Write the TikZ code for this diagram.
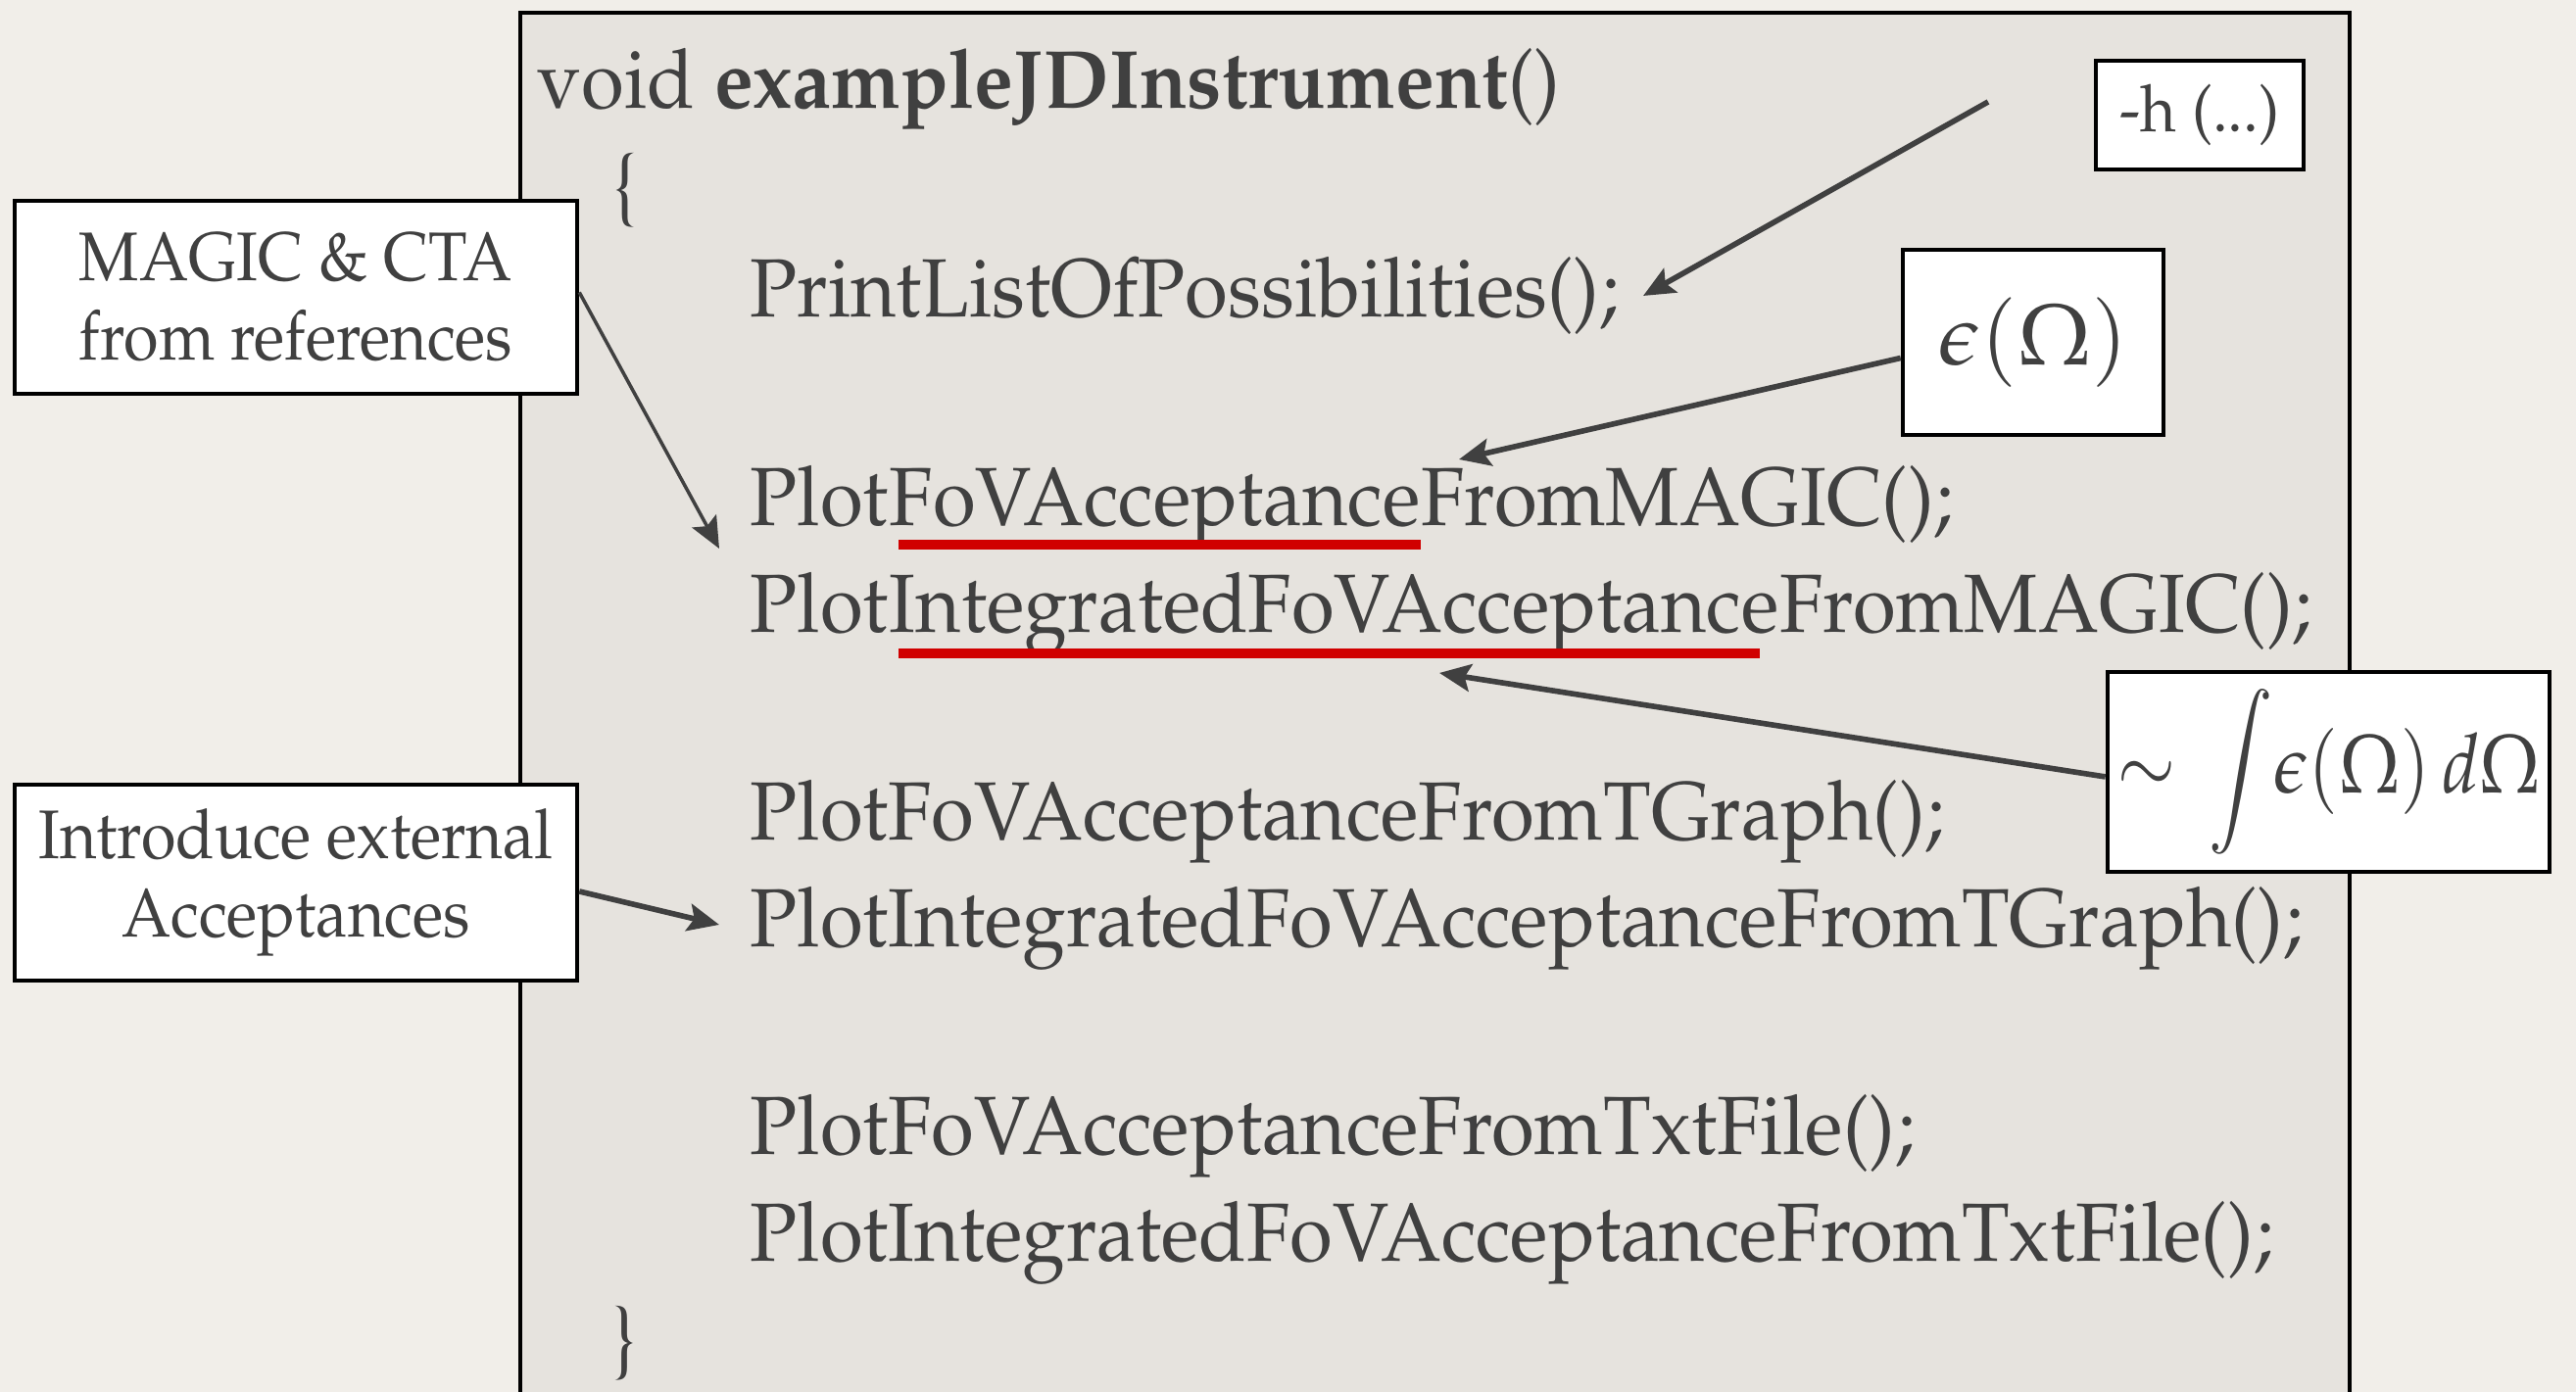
\documentclass[tikz,border=0pt]{standalone}
\usepackage[T1]{fontenc}
\usepackage{mathpazo}
\usepackage{graphicx}
\usetikzlibrary{arrows.meta}
\definecolor{paper}{RGB}{241,238,233}
\definecolor{slide}{RGB}{230,227,222}
\definecolor{ink}{RGB}{64,64,64}
\definecolor{hlred}{RGB}{208,0,0}
\newcommand{\sq}[1]{\scalebox{0.945}[1]{#1}}
\newcommand{\nsq}[1]{\scalebox{0.92}[1]{#1}}
\begin{document}
\begin{tikzpicture}[every node/.style={text=ink},
  code/.style={anchor=base west, inner sep=0pt, font=\fontsize{24}{28}\selectfont},
  note/.style={draw=black, line width=1.3pt, fill=white, inner sep=0pt, align=center,
    font=\fontsize{20}{23}\selectfont},
  pointer/.style={-{Stealth[length=3.2mm, width=2.8mm, inset=0.6mm]}, draw=ink, line width=1.6pt},
  uline/.style={hlred, line width=3pt}]
  \clip (0,0) rectangle (26.29,14.21);
  \fill[paper] (0,0) rectangle (26.29,14.21);
  \draw[fill=slide, line width=1.2pt] (5.31,-1) rectangle (23.98,14.08);
  % code listing
  \node[code] (sig) at (5.48,13.10) {\sq{void \textbf{exampleJDInstrument}()}};
  \node[code] (open) at (6.24,12.03) {\sq{\{}};
  \node[code] (print) at (7.65,10.97) {\sq{PrintListOfPossibilities();}};
  \node[code] (m1a) at (7.65,8.84) {\sq{Plot}};
  \node[code] (m1b) at (m1a.base east) {\sq{FoVAcceptance}};
  \node[code] (m1c) at (m1b.base east) {\sq{FromMAGIC();}};
  \node[code] (m2a) at (7.65,7.75) {\sq{Plot}};
  \node[code] (m2b) at (m2a.base east) {\sq{IntegratedFoVAcceptance}};
  \node[code] (m2c) at (m2b.base east) {\sq{FromMAGIC();}};
  \node[code] (g1) at (7.65,5.63) {\sq{PlotFoVAcceptanceFromTGraph();}};
  \node[code] (g2) at (7.65,4.54) {\sq{PlotIntegratedFoVAcceptanceFromTGraph();}};
  \node[code] (t1) at (7.65,2.42) {\sq{PlotFoVAcceptanceFromTxtFile();}};
  \node[code] (t2) at (7.65,1.33) {\sq{PlotIntegratedFoVAcceptanceFromTxtFile();}};
  \node[code] (close) at (6.24,0.26) {\sq{\}}};
  % red underlines
  \draw[uline] ([xshift=1mm, yshift=-1.9mm]m1b.base west) -- ([yshift=-1.9mm]m1b.base east);
  \draw[uline] ([xshift=1mm, yshift=-2.1mm]m2b.base west) -- ([xshift=-2mm, yshift=-2.1mm]m2b.base east);
  % side notes
  \node[note, minimum width=5.74cm, minimum height=1.97cm] (refs) at (3.02,11.175)
    {\nsq{MAGIC \& CTA}\\\nsq{from references}};
  \node[note, minimum width=5.74cm, minimum height=2.0cm] (ext) at (3.02,5.20)
    {\nsq{Introduce external}\\\nsq{Acceptances}};
  \node[note, minimum width=2.12cm, minimum height=1.11cm, font=\fontsize{19}{23}\selectfont] (help) at (22.45,13.035)
    {\sq{-h (...)}};
  \node[note, minimum width=2.66cm, minimum height=1.89cm, font=\fontsize{25}{28}\selectfont] (eps) at (20.75,10.715)
    {$\epsilon(\Omega)$};
  \node[note, minimum width=4.51cm, minimum height=2.04cm, font=\fontsize{24}{28}\selectfont] (integ) at (23.765,6.33)
    {\scalebox{0.86}[1]{$\mathord{\sim}\;\displaystyle\int\!\epsilon(\Omega)\,d\Omega$}};
  % arrows
  \coordinate (hstart) at (20.29,13.17);
  \coordinate (htip) at (16.77,11.19);
  \coordinate (epstip) at (14.89,9.52);
  \coordinate (integtip) at (14.69,7.34);
  \coordinate (refstip) at (7.34,8.61);
  \coordinate (exttip) at (7.34,4.77);
  \draw[pointer] (hstart) -- (htip);
  \draw[pointer] ([yshift=-1.6mm]eps.west) -- (epstip);
  \draw[pointer] ([yshift=-0.5mm]integ.west) -- (integtip);
  \draw[pointer, line width=1pt] ([yshift=0.5mm]refs.east) -- (refstip);
  \draw[pointer] ([yshift=-0.9mm]ext.east) -- (exttip);
\end{tikzpicture}
\end{document}
